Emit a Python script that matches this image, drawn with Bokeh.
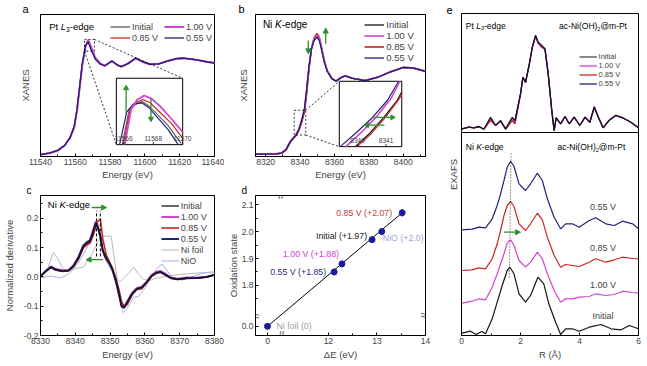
import math
from bokeh.plotting import figure
from bokeh.layouts import row, column
from bokeh.models import (Range1d, Label, Legend, LegendItem, Span, Arrow, NormalHead,
                          SingleIntervalTicker, FixedTicker, CustomJSTickFormatter, PrintfTickFormatter)
from bokeh.core.properties import value
from bokeh.embed import file_html
from bokeh.resources import INLINE

# ---------------- panel a : Pt L3-edge XANES ----------------
a_energy = [11540, 11545, 11550, 11554, 11557, 11559.4, 11561, 11562.5, 11564, 11565.9, 11567.4, 11569,
            11571.5, 11574.3, 11577, 11581, 11584, 11586.4, 11590, 11594.7, 11599, 11603, 11608, 11613,
            11618, 11622, 11627, 11632, 11636, 11640]
a_initial = [0.02, 0.035, 0.065, 0.12, 0.2, 0.32, 0.5, 0.74, 0.98, 1.175, 1.225, 1.15, 1.04, 0.985, 0.965,
             1.015, 0.975, 0.955, 0.985, 1.045, 1.005, 0.98, 0.985, 1.015, 1.04, 1.045, 1.035, 1.02, 1.005, 0.995]
a_v100 = [0.02, 0.035, 0.065, 0.12, 0.2, 0.31, 0.49, 0.73, 0.97, 1.17, 1.24, 1.17, 1.05, 0.99, 0.965,
          1.015, 0.975, 0.955, 0.985, 1.045, 1.005, 0.98, 0.985, 1.015, 1.04, 1.045, 1.035, 1.02, 1.005, 0.995]
a_v085 = [0.02, 0.035, 0.065, 0.12, 0.2, 0.315, 0.495, 0.735, 0.975, 1.172, 1.232, 1.16, 1.045, 0.987, 0.965,
          1.015, 0.975, 0.955, 0.985, 1.045, 1.005, 0.98, 0.985, 1.015, 1.04, 1.045, 1.035, 1.02, 1.005, 0.995]
a_v055 = [0.02, 0.035, 0.065, 0.12, 0.2, 0.325, 0.505, 0.745, 0.985, 1.18, 1.22, 1.14, 1.035, 0.983, 0.965,
          1.015, 0.975, 0.955, 0.985, 1.045, 1.005, 0.98, 0.985, 1.015, 1.04, 1.045, 1.035, 1.02, 1.005, 0.995]
# inset (zoom on white line)
ai_initial_x = [11565.9, 11566.38, 11566.82, 11567.25, 11567.69, 11568.13, 11569.0, 11569.89]
ai_initial_y = [0.0, 0.54, 0.61, 0.65, 0.585, 0.49, 0.29, 0.02]
ai_v055_x = [11565.72, 11566.2, 11566.64, 11567.21, 11567.69, 11568.13, 11569.0, 11569.7]
ai_v055_y = [0.0, 0.49, 0.61, 0.63, 0.56, 0.45, 0.23, 0.0]
ai_v085_x = [11565.98, 11566.42, 11566.82, 11567.3, 11567.8, 11568.35, 11569.23, 11570.0]
ai_v085_y = [0.0, 0.51, 0.63, 0.68, 0.63, 0.51, 0.32, 0.1]
ai_v100_x = [11566.07, 11566.51, 11566.93, 11567.39, 11567.91, 11568.46, 11569.23, 11570.0]
ai_v100_y = [0.0, 0.54, 0.68, 0.74, 0.69, 0.58, 0.39, 0.19]
ai_ticks = [11566, 11568, 11570]

# ---------------- panel b : Ni K-edge XANES ----------------
b_energy = [8314, 8320, 8326, 8329.2, 8331.9, 8334.6, 8337.5, 8339.3, 8341.1, 8342.6, 8343.9, 8345.2, 8346.6,
            8348.1, 8349.8, 8351.2, 8352.5, 8354, 8355.8, 8358.6, 8360.9, 8364.1, 8366.4, 8370.5, 8377.8,
            8385.2, 8392.6, 8400, 8405.5, 8413]
b_initial = [0.015, 0.015, 0.018, 0.025, 0.07, 0.18, 0.25, 0.32, 0.44, 0.57, 0.82, 1.12, 1.36, 1.48, 1.53,
             1.49, 1.37, 1.21, 1.08, 0.98, 0.95, 1.0, 1.016, 0.986, 0.957, 1.0, 1.07, 1.125, 1.12, 1.075]
b_v100 = [0.015, 0.015, 0.02, 0.03, 0.08, 0.19, 0.26, 0.335, 0.47, 0.6, 0.86, 1.14, 1.37, 1.49, 1.54,
          1.5, 1.37, 1.21, 1.08, 0.98, 0.95, 1.0, 1.016, 0.986, 0.957, 1.0, 1.07, 1.125, 1.12, 1.075]
b_v085 = [0.015, 0.015, 0.018, 0.025, 0.07, 0.18, 0.25, 0.32, 0.44, 0.565, 0.81, 1.11, 1.36, 1.5, 1.56,
          1.51, 1.38, 1.22, 1.08, 0.98, 0.95, 1.0, 1.016, 0.986, 0.957, 1.0, 1.07, 1.125, 1.12, 1.075]
b_v055 = [0.015, 0.015, 0.018, 0.027, 0.075, 0.185, 0.255, 0.33, 0.46, 0.6, 0.86, 1.14, 1.36, 1.47, 1.515,
          1.47, 1.35, 1.2, 1.075, 0.98, 0.95, 1.0, 1.016, 0.986, 0.957, 1.0, 1.07, 1.125, 1.12, 1.075]
bi_initial_x = [8339.92, 8340.44, 8340.94, 8341.39, 8341.55]
bi_initial_y = [0.0, 0.21, 0.46, 0.71, 0.835]
bi_v085_x = [8339.99, 8340.5, 8341.0, 8341.44, 8341.55]
bi_v085_y = [0.0, 0.21, 0.46, 0.72, 0.8]
bi_v100_x = [8339.59, 8340.11, 8340.67, 8341.17, 8341.48]
bi_v100_y = [0.0, 0.21, 0.46, 0.735, 1.0]
bi_v055_x = [8339.39, 8339.94, 8340.5, 8341.05, 8341.44]
bi_v055_y = [0.0, 0.21, 0.435, 0.71, 1.0]
bi_ticks = [8340, 8341]

# ---------------- panel c : derivative ----------------
c_energy = [8330, 8331.6, 8333.0, 8334.4, 8336.3, 8338.1, 8339.5, 8340.9, 8342.3, 8343.3, 8344.2, 8345.1,
            8345.9, 8346.5, 8347.2, 8347.9, 8348.9, 8349.8, 8350.7, 8351.7, 8352.6, 8353.3, 8354.0, 8354.9,
            8356.3, 8357.7, 8359.1, 8360.5, 8361.9, 8363.3, 8364.5, 8365.7, 8367.5, 8369.4, 8372.2, 8375.0,
            8377.8, 8380]
c_initial = [0.003, 0.02, 0.033, 0.024, 0.02, 0.022, 0.037, 0.064, 0.103, 0.114, 0.12, 0.148, 0.181, 0.17,
             0.142, 0.092, 0.064, 0.048, 0.026, -0.013, -0.058, -0.097, -0.104, -0.086, -0.058, -0.041,
             -0.036, -0.019, 0.003, 0.014, 0.017, 0.009, -0.004, -0.008, -0.004, -0.004, 0.0, 0.007]
c_v100 = [0.003, 0.022, 0.036, 0.027, 0.022, 0.024, 0.04, 0.068, 0.108, 0.118, 0.126, 0.16, 0.19, 0.175,
          0.14, 0.09, 0.062, 0.046, 0.024, -0.016, -0.062, -0.1, -0.102, -0.084, -0.055, -0.038,
          -0.033, -0.016, 0.006, 0.017, 0.02, 0.012, -0.002, -0.006, -0.002, -0.003, 0.001, 0.007]
c_v085 = [0.003, 0.019, 0.032, 0.023, 0.019, 0.021, 0.035, 0.06, 0.098, 0.11, 0.115, 0.14, 0.17, 0.19,
          0.198, 0.13, 0.075, 0.052, 0.03, -0.005, -0.045, -0.085, -0.1, -0.095, -0.062, -0.043,
          -0.04, -0.02, 0.002, 0.013, 0.016, 0.008, -0.005, -0.009, -0.005, -0.004, 0.0, 0.007]
c_v055 = [0.003, 0.02, 0.034, 0.025, 0.02, 0.022, 0.038, 0.066, 0.106, 0.118, 0.124, 0.155, 0.185, 0.168,
          0.138, 0.088, 0.062, 0.046, 0.024, -0.016, -0.062, -0.1, -0.106, -0.088, -0.058, -0.041,
          -0.036, -0.019, 0.003, 0.014, 0.017, 0.009, -0.004, -0.008, -0.004, -0.004, 0.0, 0.007]
c_foil_energy = [8330, 8332.1, 8333.7, 8334.9, 8336.5, 8338.1, 8340, 8342.3, 8344.7, 8346.5, 8347.5, 8350.3,
                 8351.2, 8352.1, 8352.8, 8354.5, 8355.9, 8356.8, 8358.2, 8359.6, 8361, 8363.3, 8366.6, 8370.3,
                 8375.9, 8380]
c_foil = [0.0, 0.031, 0.083, 0.064, 0.026, 0.022, 0.029, 0.033, 0.076, 0.12, 0.139, 0.139, 0.064, -0.011,
          -0.016, 0.003, 0.02, 0.033, 0.009, -0.008, -0.013, -0.004, 0.003, 0.009, 0.014, 0.014]
c_nio_energy = [8330, 8333, 8335.8, 8338.6, 8340.9, 8343.3, 8345.1, 8346.2, 8347.2, 8348.4, 8350, 8351.2,
                8352.6, 8353.7, 8354.9, 8356.8, 8358.2, 8360.1, 8361.9, 8363.8, 8364.9, 8366.1, 8368, 8370.8,
                8374.1, 8376.9, 8380]
c_nio = [-0.004, 0.003, -0.004, 0.014, 0.048, 0.098, 0.153, 0.176, 0.131, 0.064, 0.031, 0.009, -0.069,
         -0.122, -0.108, -0.069, -0.067, -0.036, 0.003, 0.033, 0.044, 0.026, -0.004, -0.011, 0.003, 0.014, 0.018]
c_edge_lines = [8346.1, 8347.2]
c_edge_top = [0.226, 0.226]
c_edge_bottom = [0.07, 0.07]

# ---------------- panel d : oxidation state ----------------
d_names = ["Ni foil (0)", "0.55 V (+1.85)", "1.00 V (+1.88)", "Initial (+1.97)", "NiO (+2.0)", "0.85 V (+2.07)"]
d_shift = [0.0, 12.12, 12.28, 12.9, 13.1, 13.52]
d_state = [0.0, 1.85, 1.88, 1.97, 2.0, 2.07]
d_err = [0.0, 0.012, 0.012, 0.012, 0.0, 0.014]

# ---------------- panel e : EXAFS (stacked) ----------------
e_pt_r = [0.02, 0.25, 0.42, 0.59, 0.76, 0.985, 1.155, 1.325, 1.495, 1.72, 1.81, 2.0, 2.08, 2.17, 2.29, 2.4,
          2.51, 2.6, 2.72, 2.83, 2.94, 3.06, 3.14, 3.21, 3.36, 3.51, 3.65, 3.82, 4.01, 4.19, 4.35, 4.5, 4.64,
          4.8, 5.0, 5.23, 5.46, 5.74, 6.0]
e_pt_initial = [20.67, 20.83, 20.77, 20.9, 20.63, 21.83, 21.0, 21.5, 20.67, 21.83, 21.5, 24.17, 25.83, 25.33,
                27.0, 28.83, 30.0, 29.33, 29.0, 28.67, 26.17, 22.5, 20.5, 21.77, 21.17, 21.9, 21.17, 21.83,
                21.0, 21.83, 21.33, 22.83, 21.83, 20.77, 21.5, 22.0, 21.77, 21.33, 20.77]
e_pt_v100 = [20.67, 20.83, 20.77, 20.9, 20.63, 21.5, 21.0, 21.4, 20.6, 21.6, 21.2, 24.1, 25.8, 25.3,
             27.0, 28.8, 29.9, 29.2, 28.8, 28.6, 26.1, 22.5, 20.5, 21.77, 21.17, 21.9, 21.17, 21.83,
             21.0, 21.83, 21.33, 22.9, 21.83, 20.77, 21.5, 22.05, 21.8, 21.33, 20.77]
e_pt_v085 = [20.67, 20.83, 20.77, 20.9, 20.63, 21.6, 21.0, 21.45, 20.65, 21.5, 21.17, 24.1, 25.8, 25.3,
             27.0, 28.8, 29.95, 29.25, 28.9, 28.6, 26.15, 22.5, 20.5, 21.77, 21.17, 21.9, 21.17, 21.83,
             21.0, 21.83, 21.33, 22.85, 21.83, 20.77, 21.5, 22.0, 21.77, 21.33, 20.77]
e_pt_v055 = [20.67, 20.83, 20.77, 20.9, 20.63, 21.8, 21.0, 21.5, 20.67, 21.8, 21.45, 24.17, 25.83, 25.33,
             27.0, 28.83, 30.0, 29.33, 29.0, 28.67, 26.17, 22.5, 20.5, 21.77, 21.17, 21.9, 21.17, 21.83,
             21.0, 21.83, 21.33, 22.8, 21.83, 20.77, 21.5, 22.0, 21.77, 21.33, 20.77]
e_ni_r = [0.02, 0.36, 0.59, 0.815, 1.04, 1.21, 1.325, 1.44, 1.55, 1.665, 1.78, 1.95, 2.17, 2.34, 2.57, 2.74,
          2.91, 3.14, 3.36, 3.53, 3.76, 3.99, 4.33, 4.55, 4.89, 5.18, 5.46, 5.8, 6.0]
e_ni_v055 = [10.57, 10.63, 10.83, 10.77, 11.67, 13.0, 14.17, 15.5, 16.83, 17.43, 16.9, 15.17, 14.5, 15.17,
             16.23, 15.5, 13.67, 11.83, 10.67, 11.17, 11.17, 10.83, 11.5, 11.77, 11.17, 11.0, 11.43, 11.17, 10.67]
e_ni_v085 = [6.5, 6.57, 6.77, 6.67, 7.67, 9.17, 10.5, 12.0, 13.0, 13.4, 12.9, 11.17, 10.5, 11.17, 12.23,
             11.57, 9.83, 8.0, 6.83, 7.1, 7.0, 6.9, 7.33, 7.67, 7.33, 7.57, 7.83, 7.7, 7.67]
e_ni_v100 = [3.23, 3.43, 3.67, 3.57, 4.83, 6.17, 7.17, 8.17, 9.23, 9.57, 9.0, 7.5, 6.83, 7.33, 8.33, 7.67,
             6.17, 4.5, 3.33, 3.67, 3.67, 3.83, 3.9, 4.17, 4.0, 4.1, 4.43, 4.3, 4.23]
e_ni_initial_r = [0.02, 0.3, 0.5, 0.69, 0.815, 1.04, 1.21, 1.38, 1.55, 1.64, 1.78, 1.95, 2.17, 2.34, 2.59,
                  2.79, 2.96, 3.19, 3.36, 3.53, 3.76, 3.99, 4.33, 4.73, 5.07, 5.41, 5.69, 6.0]
e_ni_initial = [0.23, 0.43, 0.1, 0.4, 0.17, 1.67, 3.33, 5.0, 6.5, 6.83, 6.17, 4.17, 3.33, 4.0, 5.83, 5.17,
                3.17, 1.33, 0.1, 0.67, 0.67, 0.43, 0.83, 1.1, 0.67, 0.57, 1.0, 0.67]
e_peak_r = [1.68, 1.62]
e_peak_y = [18.2, 5.8]
e_divider = 20.3
e_stack_names = ["0.55 V", "0.85 V", "1.00 V", "Initial"]
e_stack_label_r = [4.8, 4.8, 4.8, 4.8]
e_stack_label_y = [12.9, 8.77, 5.1, 2.0]

# ---------------- style ----------------
FONT = "Liberation Sans"
K_INI = "#161616"
K_A = "#5c5c5c"
MAG = "#cf45cf"
RED = "#cc2424"
NAVY = "#22227a"
GREEN = "#2f8f2f"
FOIL = "#b9b9b9"
NIO = "#aab2dc"

W = {' ': .278, '-': .333, '(': .333, ')': .333, '@': 1.015, '.': .278, '+': .584, 'a': .556, 'c': .5,
     'd': .556, 'e': .556, 'g': .556, 'i': .222, 'l': .222, 'm': .833, 'n': .556, 't': .278, 'H': .722,
     'K': .667, 'L': .556, 'N': .722, 'O': .778, 'P': .667, 'V': .667}


def tw(s, size):
    return sum(W.get(ch, 0.556) for ch in s) * size


def rich(p, x, y, parts, color="black"):
    cx = x
    for t, size, st, dy in parts:
        p.add_layout(Label(x=cx, y=y + dy, x_units="screen", y_units="screen", text=t, text_font=FONT,
                           text_font_size=f"{size}px", text_font_style=st, text_baseline="middle",
                           text_align="left", text_color=color))
        cx += tw(t, size)


def panel_letter(p, s, offset, size):
    p.title.text = s
    p.title.align = "left"
    p.title.offset = offset
    p.title.standoff = 0
    p.title.text_font = FONT
    p.title.text_font_size = f"{size}px"
    p.title.text_font_style = "normal"
    p.title.text_color = "black"


def mk(width, height, xr, yr, l, r, t, b):
    p = figure(width=width, height=height, x_range=Range1d(*xr), y_range=Range1d(*yr),
               output_backend="svg", toolbar_location=None,
               min_border_left=l, min_border_right=r, min_border_top=t, min_border_bottom=b)
    p.outline_line_color = "black"
    p.outline_line_width = 1
    p.border_fill_alpha = 0
    p.grid.visible = False
    for ax in p.axis:
        ax.axis_line_color = "black"
        ax.major_tick_in = 3
        ax.major_tick_out = 0
        ax.minor_tick_in = 2
        ax.minor_tick_out = 0
        ax.major_tick_line_color = "black"
        ax.minor_tick_line_color = "black"
        ax.major_label_text_font = FONT
        ax.major_label_text_font_size = "8.5px"
        ax.major_label_standoff = 2
        ax.axis_label_text_font = FONT
        ax.axis_label_text_font_size = "9.5px"
        ax.axis_label_text_font_style = "normal"
        ax.axis_label_standoff = 2
    return p


def legend(p, pairs, loc, size, gw, lh):
    leg = Legend(items=[LegendItem(label=lab, renderers=[r]) for lab, r in pairs], location=loc,
                 label_text_font=FONT, label_text_font_size=f"{size}px", glyph_width=gw, glyph_height=int(lh),
                 label_height=int(lh), label_standoff=2, spacing=0, padding=0, margin=0,
                 background_fill_alpha=0, border_line_alpha=0)
    p.add_layout(leg)


def arrow(p, x0, y0, x1, y1):
    p.add_layout(Arrow(end=NormalHead(size=5, fill_color=GREEN, line_color=GREEN, line_width=1),
                       x_start=x0, y_start=y0, x_end=x1, y_end=y1, line_color=GREEN, line_width=1.3))


def sub_arrow(sub, x0, y0, x1, y1, ang):
    sub.segment(x0=[x0], y0=[y0], x1=[x1], y1=[y1], line_color=GREEN, line_width=1.3)
    sub.scatter(x=[x1], y=[y1], marker="triangle", size=5, angle=ang, fill_color=GREEN, line_color=GREEN)


# ================= panel a =================
pa = mk(224, 182, (11540, 11640), (0, 1.51), 37, 8, 13, 25)
pa.xaxis.ticker = SingleIntervalTicker(interval=20, num_minor_ticks=2)
pa.xaxis.formatter = PrintfTickFormatter(format="%d")
pa.xaxis.axis_label_standoff = 1
pa.yaxis.ticker = FixedTicker(ticks=[])
pa.yaxis.axis_label_standoff = 10
pa.xaxis.axis_label = "Energy (eV)"
pa.yaxis.axis_label = "XANES"
ra1 = pa.line(a_energy, a_initial, line_color=K_A, line_width=1.3)
ra3 = pa.line(a_energy, a_v085, line_color=RED, line_width=1.3)
ra2 = pa.line(a_energy, a_v100, line_color=MAG, line_width=2.0)
ra4 = pa.line(a_energy, a_v055, line_color=NAVY, line_width=1.3)
A_IN_X = (11583.6, 11621.7)
A_IN_Y = (0.126, 0.832)
pa.quad(left=[11565.3], right=[11571.0], bottom=[1.12], top=[1.245], fill_alpha=0, line_color="black",
        line_dash="2 2", line_width=0.8)
pa.segment(x0=[11571.0, 11565.3], y0=[1.245, 1.12], x1=[A_IN_X[1], A_IN_X[0]], y1=[A_IN_Y[1], A_IN_Y[0]],
           line_color="black", line_dash="2 2", line_width=0.8)
pa.quad(left=[A_IN_X[0]], right=[A_IN_X[1]], bottom=[A_IN_Y[0]], top=[A_IN_Y[1]], fill_color="white",
        line_color="black", line_width=1)
ia = pa.subplot(x_source=Range1d(11565.5, 11570), y_source=Range1d(0, 1),
                x_target=Range1d(*A_IN_X), y_target=Range1d(*A_IN_Y))
ia.line(ai_initial_x, ai_initial_y, line_color=K_A, line_width=1.2)
ia.line(ai_v055_x, ai_v055_y, line_color=NAVY, line_width=1.2)
ia.line(ai_v085_x, ai_v085_y, line_color=RED, line_width=1.2)
ia.line(ai_v100_x, ai_v100_y, line_color=MAG, line_width=1.8)
ia.segment(x0=ai_ticks, y0=[0] * 3, x1=ai_ticks, y1=[0.04] * 3, line_color="black", line_width=0.8)
ia.text(x=ai_ticks, y=[0.05] * 3, text=[str(t) for t in ai_ticks], text_font=value(FONT),
        text_font_size="6.5px", text_align="center", text_baseline="bottom", text_color="#444444")
sub_arrow(ia, 11566.16, 0.46, 11566.16, 0.85, 0.0)
sub_arrow(ia, 11567.85, 0.70, 11567.85, 0.39, math.pi)
legend(pa, [("Initial", ra1), ("0.85 V", ra3)], (70, 113), 9, 20, 11)
legend(pa, [("1.00 V", ra2), ("0.55 V", ra4)], (124, 113), 9, 20, 11)
rich(pa, 8.7, 130.3, [("Pt ", 9.5, "normal", 0), ("L", 9.5, "italic", 0), ("3", 6.5, "normal", -3),
                      ("-edge", 9.5, "normal", 0)])
panel_letter(pa, "a", -18, 11)

# ================= panel b =================
pb = mk(220, 182, (8314.1, 8412.9), (-0.016, 1.804), 25, 16, 13, 25)
pb.xaxis.ticker = SingleIntervalTicker(interval=20, num_minor_ticks=2)
pb.xaxis.formatter = PrintfTickFormatter(format="%d")
pb.xaxis.axis_label_standoff = 1
pb.yaxis.ticker = FixedTicker(ticks=[])
pb.yaxis.axis_label_standoff = 7
pb.xaxis.axis_label = "Energy (eV)"
pb.yaxis.axis_label = "XANES"
rb1 = pb.line(b_energy, b_initial, line_color=K_INI, line_width=1.3)
rb3 = pb.line(b_energy, b_v085, line_color=RED, line_width=1.6)
rb2 = pb.line(b_energy, b_v100, line_color=MAG, line_width=1.6)
rb4 = pb.line(b_energy, b_v055, line_color=NAVY, line_width=1.3)
B_IN_X = (8362.8, 8399.1)
B_IN_Y = (0.11, 0.948)
pb.quad(left=[8336.6], right=[8343.3], bottom=[0.26], top=[0.577], fill_alpha=0, line_color="black",
        line_dash="2 2", line_width=0.8)
pb.segment(x0=[8343.3, 8343.3], y0=[0.577, 0.26], x1=[B_IN_X[0], B_IN_X[0]], y1=[B_IN_Y[1], B_IN_Y[0]],
           line_color="black", line_dash="2 2", line_width=0.8)
pb.quad(left=[B_IN_X[0]], right=[B_IN_X[1]], bottom=[B_IN_Y[0]], top=[B_IN_Y[1]], fill_color="white",
        line_color="black", line_width=1)
ib = pb.subplot(x_source=Range1d(8339.36, 8341.55), y_source=Range1d(0, 1),
                x_target=Range1d(*B_IN_X), y_target=Range1d(*B_IN_Y))
ib.line(bi_v055_x, bi_v055_y, line_color=NAVY, line_width=1.2)
ib.line(bi_v100_x, bi_v100_y, line_color=MAG, line_width=1.6)
ib.line(bi_initial_x, bi_initial_y, line_color=K_INI, line_width=1.2)
ib.line(bi_v085_x, bi_v085_y, line_color=RED, line_width=1.2)
ib.segment(x0=bi_ticks, y0=[0] * 2, x1=bi_ticks, y1=[0.04] * 2, line_color="black", line_width=0.8)
ib.text(x=bi_ticks, y=[0.05] * 2, text=[str(t) for t in bi_ticks], text_font=value(FONT),
        text_font_size="6.5px", text_align="center", text_baseline="bottom", text_color="#444444")
sub_arrow(ib, 8340.55, 0.448, 8341.22, 0.448, -math.pi / 2)
sub_arrow(ib, 8340.94, 0.33, 8340.33, 0.33, math.pi / 2)
arrow(pb, 8344.8, 1.47, 8344.8, 1.3)
arrow(pb, 8354.9, 1.43, 8354.9, 1.63)
legend(pb, [("Initial", rb1), ("1.00 V", rb2), ("0.85 V", rb3), ("0.55 V", rb4)], (109.3, 93.5), 9.5, 20, 11)
rich(pb, 7.4, 132, [("Ni ", 10, "normal", 0), ("K", 10, "italic", 0), ("-edge", 10, "normal", 0)])
panel_letter(pb, "b", -17, 11)

# ================= panel c =================
pc = mk(224, 182, (8330, 8380), (-0.2, 0.278), 36, 10, 12, 29)
pc.xaxis.ticker = SingleIntervalTicker(interval=10, num_minor_ticks=2)
pc.xaxis.formatter = PrintfTickFormatter(format="%d")
pc.yaxis.ticker = SingleIntervalTicker(interval=0.1, num_minor_ticks=2)
pc.yaxis.formatter = PrintfTickFormatter(format="%.1f")
pc.yaxis.axis_label_standoff = 6
pc.xaxis.axis_label = "Energy (eV)"
pc.yaxis.axis_label = "Normalized derivative"
rc5 = pc.line(c_foil_energy, c_foil, line_color=FOIL, line_width=1.0)
rc6 = pc.line(c_nio_energy, c_nio, line_color=NIO, line_width=1.0)
rc2 = pc.line(c_energy, c_v100, line_color=MAG, line_width=2.0)
rc3 = pc.line(c_energy, c_v085, line_color=RED, line_width=1.6)
rc4 = pc.line(c_energy, c_v055, line_color=NAVY, line_width=2.0)
rc1 = pc.line(c_energy, c_initial, line_color=K_INI, line_width=1.3)
pc.segment(x0=c_edge_lines, y0=c_edge_bottom, x1=c_edge_lines, y1=c_edge_top, line_color="black",
           line_dash="3 2", line_width=1)
arrow(pc, 8344.7, 0.237, 8349.0, 0.237)
arrow(pc, 8347.9, 0.059, 8343.1, 0.059)
legend(pc, [("Initial", rc1), ("1.00 V", rc2), ("0.85 V", rc3), ("0.55 V", rc4), ("Ni foil", rc5),
            ("NiO", rc6)], (120.7, 69), 9, 18, 11)
rich(pc, 7.3, 131, [("Ni ", 9.5, "normal", 0), ("K", 9.5, "italic", 0), ("-edge", 9.5, "normal", 0)])
panel_letter(pc, "c", -14, 10)

# ================= panel d =================
X0 = 10.747   # display position of dE = 0 (broken axis)
XB = 11.03    # x break
Y0 = 1.648    # display position of state = 0
YB = 1.6875   # y break
D_XR = (10.5, 14.0)
D_YR = (1.614, 2.134)


def xd(v):
    return v + X0 if v < 5 else v


def yd(v):
    return v + Y0 if v < 1 else v


pd = mk(220, 182, D_XR, D_YR, 24, 19, 11, 29)
pd.xaxis.ticker = FixedTicker(ticks=[X0, 12, 13, 14], minor_ticks=[12.5, 13.5])
pd.xaxis.formatter = CustomJSTickFormatter(code="return tick < 11.5 ? '0' : tick.toFixed(0);")
pd.yaxis.ticker = FixedTicker(ticks=[Y0, 1.8, 1.9, 2.0, 2.1], minor_ticks=[1.75, 1.85, 1.95, 2.05])
pd.yaxis.formatter = CustomJSTickFormatter(code="return tick < 1.7 ? '0.0' : tick.toFixed(1);")
pd.yaxis.axis_label_standoff = 0
pd.xaxis.axis_label = "ΔE (eV)"
pd.yaxis.axis_label = "Oxidation state"
dx = [xd(v) for v in d_shift]
dy = [yd(v) for v in d_state]
pd.line([dx[0], dx[-1]], [dy[0], dy[-1]], line_color="black", line_width=1)
pd.segment(x0=dx, y0=[a - e for a, e in zip(dy, d_err)], x1=dx, y1=[a + e for a, e in zip(dy, d_err)],
           line_color=NAVY, line_width=1.2)
pd.scatter(dx, dy, size=6, fill_color="#1a1aa0", line_color="#1a1aa0")
d_colors = ["#a0a0a0", "#2b2b8c", "#d040d0", "#1a1a1a", "#9aa6d8", "#c83c3c"]
d_off = [(9, 0, "left"), (-8, 0, "right"), (-3, 10, "right"), (-5, 4, "right"), (1, -6.5, "left"),
         (-10, 0, "right")]
for name, x, y, col, (ox, oy, al) in zip(d_names, dx, dy, d_colors, d_off):
    pd.add_layout(Label(x=x, y=y, x_offset=ox, y_offset=oy, text=name, text_font=FONT, text_font_size="8.8px",
                        text_color=col, text_align=al, text_baseline="middle"))
for bx, by, ang in [(XB, D_YR[0], 0), (XB, D_YR[1], 0), (D_XR[0], YB, math.pi / 2), (D_XR[1], YB, math.pi / 2)]:
    pd.add_layout(Label(x=bx, y=by, text="//", text_font=FONT, text_font_size="10px", text_align="center",
                        text_baseline="middle", angle=ang))
panel_letter(pd, "d", -14, 10)

# ================= panel e =================
pe = mk(200, 364, (0, 6), (0, 32.2), 17, 6, 13, 29)
pe.xaxis.ticker = SingleIntervalTicker(interval=2, num_minor_ticks=2)
pe.xaxis.formatter = PrintfTickFormatter(format="%d")
pe.yaxis.ticker = FixedTicker(ticks=[])
pe.yaxis.axis_label_standoff = 3
pe.xaxis.axis_label = "R (Å)"
pe.yaxis.axis_label = "EXAFS"
pe.add_layout(Span(location=e_divider, dimension="width", line_color="black", line_width=1))
re2 = pe.line(e_pt_r, e_pt_v100, line_color=MAG, line_width=1.3)
re3 = pe.line(e_pt_r, e_pt_v085, line_color=RED, line_width=1.3)
re4 = pe.line(e_pt_r, e_pt_v055, line_color=NAVY, line_width=1.3)
re1 = pe.line(e_pt_r, e_pt_initial, line_color=K_INI, line_width=1.0)
pe.line(e_ni_r, e_ni_v055, line_color=NAVY, line_width=1.2)
pe.line(e_ni_r, e_ni_v085, line_color=RED, line_width=1.2)
pe.line(e_ni_r, e_ni_v100, line_color=MAG, line_width=1.2)
pe.line(e_ni_initial_r, e_ni_initial, line_color=K_INI, line_width=1.2)
pe.line(e_peak_r, e_peak_y, line_color="#333333", line_dash="1 2", line_width=1)
arrow(pe, 1.44, 10.33, 2.0, 10.33)
for name, x, y in zip(e_stack_names, e_stack_label_r, e_stack_label_y):
    pe.add_layout(Label(x=x, y=y, text=name, text_font=FONT, text_font_size="9px", text_align="center",
                        text_baseline="middle"))
legend(pe, [("Initial", re1), ("1.00 V", re2), ("0.85 V", re3), ("0.55 V", re4)], (117.6, 247), 7.5, 18, 9)
rich(pe, 4.3, 310, [("Pt ", 8.5, "normal", 0), ("L", 8.5, "italic", 0), ("3", 5.5, "normal", -2.5),
                    ("-edge", 8.5, "normal", 0)])
rich(pe, 97.6, 309.3, [("ac-Ni(OH)", 8.5, "normal", 0), ("2", 5.5, "normal", -2.5), ("@m-Pt", 8.5, "normal", 0)])
rich(pe, 4.3, 188.3, [("Ni ", 8.5, "normal", 0), ("K", 8.5, "italic", 0), ("-edge", 8.5, "normal", 0)])
rich(pe, 96, 188.3, [("ac-Ni(OH)", 8.5, "normal", 0), ("2", 5.5, "normal", -2.5), ("@m-Pt", 8.5, "normal", 0)])
panel_letter(pe, "e", -15, 11)

layout = row(column(pa, pc), column(pb, pd), pe)
open("out.html", "w").write(file_html(layout, INLINE))
